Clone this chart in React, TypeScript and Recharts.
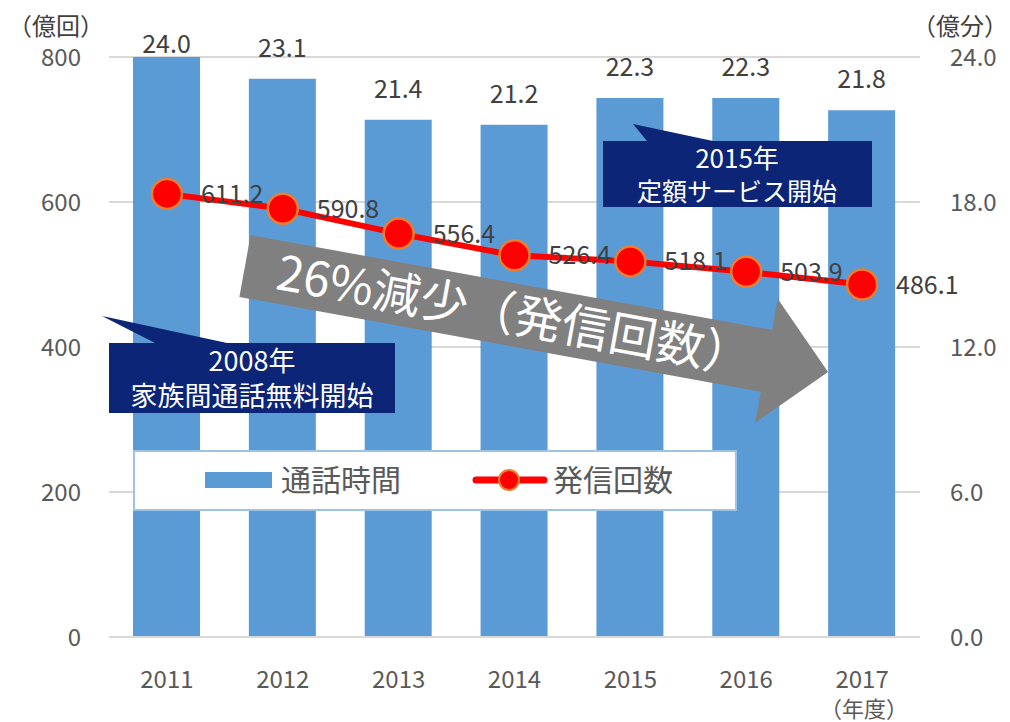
import React from 'react';
import { ComposedChart, Bar, Line, XAxis, YAxis, CartesianGrid, LabelList } from 'recharts';

const years = ['2011', '2012', '2013', '2014', '2015', '2016', '2017'];
const callMinutes = [24.0, 23.1, 21.4, 21.2, 22.3, 22.3, 21.8]; // 億分
const callCounts = [611.2, 590.8, 556.4, 526.4, 518.1, 503.9, 486.1]; // 億回
const leftTicks = [0, 200, 400, 600, 800];
const rightTicks = [0, 6, 12, 18, 24];
const seriesNames = ['通話時間', '発信回数'];
const xUnit = '（年度）';
const leftUnit = '（億回）';
const rightUnit = '（億分）';
const callout1 = ['2008年', '家族間通話無料開始'];
const callout2 = ['2015年', '定額サービス開始'];
const arrowText = '26%減少（発信回数）';

const data = years.map((y, i) => ({ year: y, minutes: callMinutes[i], count: callCounts[i] }));

const FONT = '"Noto Sans CJK JP", "Noto Sans", sans-serif';
const BAR = '#5B9BD5';
const RED = '#FF0000';
const ORANGE = '#ED7D31';
const NAVY = '#0C2577';
const TICK = '#595959';
const LABEL = '#404040';

const BarLabel = (props: any) => {
  const { x, y, width, value } = props;
  const ty = Math.max(Number(y) - 31, 44);
  return (
    <text x={Number(x) + Number(width) / 2} y={ty} dy="0.36em" textAnchor="middle" fill={LABEL} fontSize={25} fontFamily={FONT}>
      {Number(value).toFixed(1)}
    </text>
  );
};

const LineLabel = (props: any) => {
  const { x, y, value } = props;
  return (
    <text x={Number(x) + 34} y={Number(y)} dy="0.36em" textAnchor="start" fill={LABEL} fontSize={25} fontFamily={FONT}>
      {Number(value).toFixed(1)}
    </text>
  );
};

const XTick = (props: any) => {
  const { x, y, payload } = props;
  const last = payload.value === years[years.length - 1];
  return (
    <g>
      <text x={x} y={y} dy="0.71em" textAnchor="middle" fill={TICK} fontSize={24} fontFamily={FONT}>
        {payload.value}
      </text>
      {last && (
        <text x={x + 2} y={y + 30} dy="0.71em" textAnchor="middle" fill={TICK} fontSize={22} fontFamily={FONT}>
          {xUnit}
        </text>
      )}
    </g>
  );
};

const ang = 10.3;

export default function App() {
  return (
    <div style={{ position: 'absolute', left: 0, top: 0, width: 1010, height: 722, background: '#fff', overflow: 'hidden' }}>
      <ComposedChart width={1010} height={722} data={data} margin={{ top: 57, right: 30, bottom: 55, left: 49 }}>
        <CartesianGrid vertical={false} stroke="#D9D9D9" strokeWidth={2} yAxisId="left" />
        <XAxis
          dataKey="year"
          tick={<XTick />}
          tickLine={false}
          tickMargin={28}
          axisLine={{ stroke: '#D9D9D9', strokeWidth: 2 }}
          height={30}
        />
        <YAxis
          yAxisId="left"
          orientation="left"
          domain={[0, 800]}
          ticks={leftTicks}
          width={60}
          tickLine={false}
          axisLine={false}
          tickMargin={22}
          tick={{ fill: TICK, fontSize: 24, fontFamily: FONT }}
        />
        <YAxis
          yAxisId="right"
          orientation="right"
          domain={[0, 24]}
          ticks={rightTicks}
          width={60}
          tickLine={false}
          axisLine={false}
          tickMargin={24}
          tickFormatter={(v: number) => v.toFixed(1)}
          tick={{ fill: TICK, fontSize: 24, fontFamily: FONT, textAnchor: 'start' }}
        />
        <Bar yAxisId="right" dataKey="minutes" name={seriesNames[0]} fill={BAR} barSize={67} isAnimationActive={false}>
          <LabelList dataKey="minutes" content={<BarLabel />} />
        </Bar>
        <Line
          yAxisId="left"
          type="linear"
          dataKey="count"
          name={seriesNames[1]}
          stroke={RED}
          strokeWidth={6}
          dot={{ r: 15, fill: RED, stroke: ORANGE, strokeWidth: 2.5 }}
          activeDot={false}
          isAnimationActive={false}
        >
          <LabelList dataKey="count" content={<LineLabel />} />
        </Line>
      </ComposedChart>

      <svg width={1010} height={722} style={{ position: 'absolute', left: 0, top: 0, pointerEvents: 'none' }}>
        {/* axis units */}
        <text x={56} y={26} dy="0.36em" textAnchor="middle" fill={LABEL} fontSize={24} fontFamily={FONT}>{leftUnit}</text>
        <text x={960} y={26} dy="0.36em" textAnchor="middle" fill={LABEL} fontSize={24} fontFamily={FONT}>{rightUnit}</text>

        {/* callout 1 */}
        <path d="M109,343 H155 L102,316 L227,343 H395 V413 H109 Z" fill={NAVY} />
        <text x={252} y={361} dy="0.36em" textAnchor="middle" fill="#fff" fontSize={27} fontFamily={FONT}>{callout1[0]}</text>
        <text x={252} y={396} dy="0.36em" textAnchor="middle" fill="#fff" fontSize={27} fontFamily={FONT}>{callout1[1]}</text>

        {/* callout 2 */}
        <path d="M603,141 H647 L633,124 L713,141 H872 V207 H603 Z" fill={NAVY} />
        <text x={737} y={159} dy="0.36em" textAnchor="middle" fill="#fff" fontSize={26} fontFamily={FONT}>{callout2[0]}</text>
        <text x={737} y={192} dy="0.36em" textAnchor="middle" fill="#fff" fontSize={25} fontFamily={FONT}>{callout2[1]}</text>

        {/* big arrow */}
        <g transform={`translate(245,266) rotate(${ang})`}>
          <path d="M0,-31.4 H530 V-63 L592.6,0 L530,63 V31.4 H0 Z" fill="#808080" />
          <text x={33} y={17} fill="#fff" fontSize={48} fontFamily={FONT}>{arrowText}</text>
        </g>

        {/* legend */}
        <rect x={134} y={451} width={602} height={59} fill="#fff" stroke="#9DC3E6" strokeWidth={2} />
        <rect x={205} y={472} width={67} height={16} fill={BAR} />
        <text x={281} y={480} dy="0.36em" fill={TICK} fontSize={30} fontFamily={FONT}>{seriesNames[0]}</text>
        <line x1={476} y1={480} x2={544} y2={480} stroke={RED} strokeWidth={7} strokeLinecap="round" />
        <circle cx={509} cy={480} r={10} fill={RED} stroke={ORANGE} strokeWidth={2} />
        <text x={553} y={480} dy="0.36em" fill={TICK} fontSize={30} fontFamily={FONT}>{seriesNames[1]}</text>
      </svg>
    </div>
  );
}
